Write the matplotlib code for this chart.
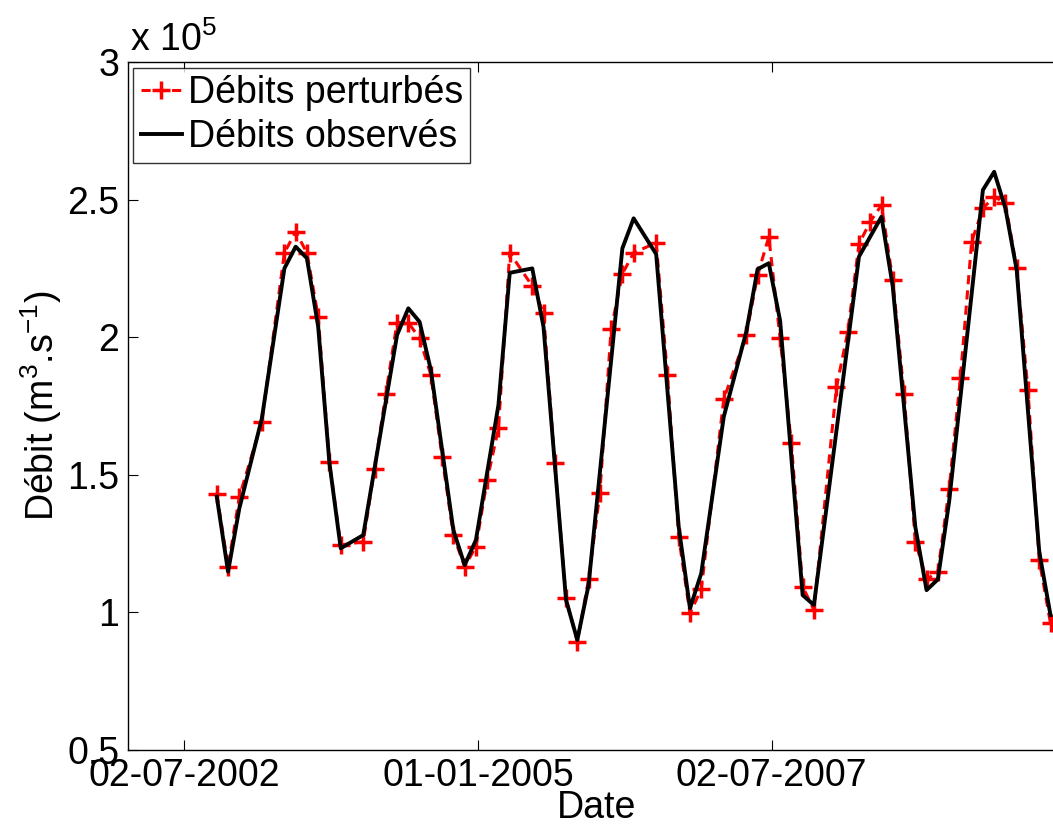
import numpy as np
import pandas as pd
import matplotlib
matplotlib.use('Agg')
import matplotlib.pyplot as plt
import matplotlib.dates as mdates
from matplotlib.ticker import FixedLocator, FuncFormatter

plt.rcParams['font.family'] = ['Liberation Sans', 'DejaVu Sans']
plt.rcParams['mathtext.fontset'] = 'custom'
plt.rcParams['mathtext.rm'] = 'Liberation Sans'
plt.rcParams['mathtext.it'] = 'Liberation Sans:italic'
plt.rcParams['mathtext.bf'] = 'Liberation Sans:bold'

# Debits perturbes (m3/s), un point par cycle de 35 jours
dates_pert = ['2002-10-12', '2002-11-16', '2002-12-21', '2003-03-01', '2003-05-10',
              '2003-06-14', '2003-07-19', '2003-08-23', '2003-09-27', '2003-11-01',
              '2004-01-10', '2004-02-14', '2004-03-20', '2004-04-24', '2004-05-29',
              '2004-07-03', '2004-08-07', '2004-09-11', '2004-10-16', '2004-11-20',
              '2004-12-25', '2005-01-29', '2005-03-05', '2005-04-09', '2005-06-18',
              '2005-07-23', '2005-08-27', '2005-10-01', '2005-11-05', '2005-12-10',
              '2006-01-14', '2006-02-18', '2006-03-25', '2006-04-29', '2006-07-08',
              '2006-08-12', '2006-09-16', '2006-10-21', '2006-11-25', '2007-02-03',
              '2007-04-14', '2007-05-19', '2007-06-23', '2007-07-28', '2007-09-01',
              '2007-10-06', '2007-11-10', '2008-01-19', '2008-02-23', '2008-03-29',
              '2008-05-03', '2008-06-07', '2008-07-12', '2008-08-16', '2008-09-20',
              '2008-10-25', '2008-11-29', '2009-01-03', '2009-02-07', '2009-03-14',
              '2009-04-18', '2009-05-23', '2009-06-27', '2009-08-01', '2009-09-05',
              '2009-10-10', '2009-11-14']
debits_pert = [1.43, 1.166, 1.42, 1.693, 2.307,
               2.383, 2.307, 2.075, 1.545, 1.245,
               1.257, 1.521, 1.794, 2.053, 2.053,
               1.996, 1.863, 1.564, 1.281, 1.166,
               1.239, 1.481, 1.669, 2.307, 2.186,
               2.089, 1.542, 1.051, 0.894, 1.120,
               1.433, 2.029, 2.230, 2.307, 2.343,
               1.863, 1.273, 0.997, 1.084, 1.775,
               2.008, 2.226, 2.365, 1.996, 1.614,
               1.094, 1.009, 1.818, 2.018, 2.339,
               2.420, 2.480, 2.208, 1.794, 1.257,
               1.120, 1.148, 1.448, 1.851, 2.347,
               2.468, 2.511, 2.487, 2.250, 1.808,
               1.190, 0.960]

# Debits observes (m3/s)
dates_obs = ['2002-10-12', '2002-11-16', '2002-12-21', '2003-03-01', '2003-05-10',
             '2003-06-14', '2003-07-19', '2003-08-23', '2003-09-27', '2003-11-01',
             '2004-01-10', '2004-04-24', '2004-05-29', '2004-07-03', '2004-08-07',
             '2004-10-16', '2004-11-20', '2004-12-25', '2005-03-05', '2005-04-09',
             '2005-06-18', '2005-07-23', '2005-10-01', '2005-11-05', '2005-12-10',
             '2006-03-25', '2006-04-29', '2006-07-08', '2006-09-16', '2006-10-21',
             '2006-11-25', '2007-02-03', '2007-04-14', '2007-05-19', '2007-06-23',
             '2007-07-28', '2007-10-06', '2007-11-10', '2008-03-29', '2008-06-07',
             '2008-07-12', '2008-09-20', '2008-10-25', '2008-11-29', '2009-01-03',
             '2009-04-18', '2009-05-23', '2009-06-27', '2009-08-01', '2009-10-10',
             '2009-11-14']
debits_obs = [1.42, 1.148, 1.378, 1.705, 2.25,
              2.329, 2.287, 2.038, 1.542, 1.233,
              1.281, 2.008, 2.105, 2.056, 1.881,
              1.299, 1.172, 1.263, 1.754, 2.234,
              2.250, 2.038, 1.045, 0.900, 1.100,
              2.323, 2.432, 2.302, 1.311, 1.015,
              1.142, 1.711, 2.020, 2.247, 2.269,
              2.06, 1.063, 1.027, 2.293, 2.438,
              2.184, 1.311, 1.081, 1.120, 1.402,
              2.535, 2.601, 2.468, 2.244, 1.221,
              0.99]

tick_dates = ['2002-07-02', '2005-01-01', '2007-07-02']
y_ticks = [0.5, 1, 1.5, 2, 2.5, 3]

xp = pd.to_datetime(dates_pert)
yp = np.array(debits_pert) * 1e5
xo = pd.to_datetime(dates_obs)
yo = np.array(debits_obs) * 1e5

fs = 27
fig = plt.figure(figsize=(10.53, 8.26), dpi=100)
ax = fig.add_axes([0.1212, 0.0920, 0.8911, 0.8329])

ax.plot(xp, yp, '--', color='red', lw=2.2, marker='+', ms=13, mew=2.5,
        dashes=(3, 2), label='Débits perturbés')
ax.plot(xo, yo, '-', color='black', lw=2.8, label='Débits observés')

ax.set_xlim(pd.Timestamp('2002-01-08'), pd.Timestamp('2010-01-01'))
ax.set_ylim(0.5e5, 3e5)

ax.xaxis.set_major_locator(FixedLocator(mdates.date2num(pd.to_datetime(tick_dates))))
ax.xaxis.set_major_formatter(mdates.DateFormatter('%d-%m-%Y'))
ax.yaxis.set_major_locator(FixedLocator([v * 1e5 for v in y_ticks]))
ax.yaxis.set_major_formatter(FuncFormatter(lambda v, p: '%g' % (v / 1e5)))

ax.tick_params(direction='in', length=7, width=0.8, labelsize=fs,
               top=True, right=True, pad=6)
for s in ax.spines.values():
    s.set_linewidth(1.0)

ax.text(0.003, 1.005, 'x 10$^5$', transform=ax.transAxes, fontsize=fs,
        ha='left', va='bottom')
ax.set_xlabel('Date', fontsize=fs, labelpad=-3)
ax.set_ylabel('Débit (m$^3$.s$^{-1}$)', fontsize=fs, labelpad=2)

leg = ax.legend(loc='upper left', fontsize=fs, frameon=True, fancybox=False,
                edgecolor='black', handlelength=1.1, handletextpad=0.15,
                borderpad=0.2, labelspacing=0.22, borderaxespad=0.15)
leg.get_frame().set_linewidth(1.0)

fig.savefig('out.png', dpi=100)
